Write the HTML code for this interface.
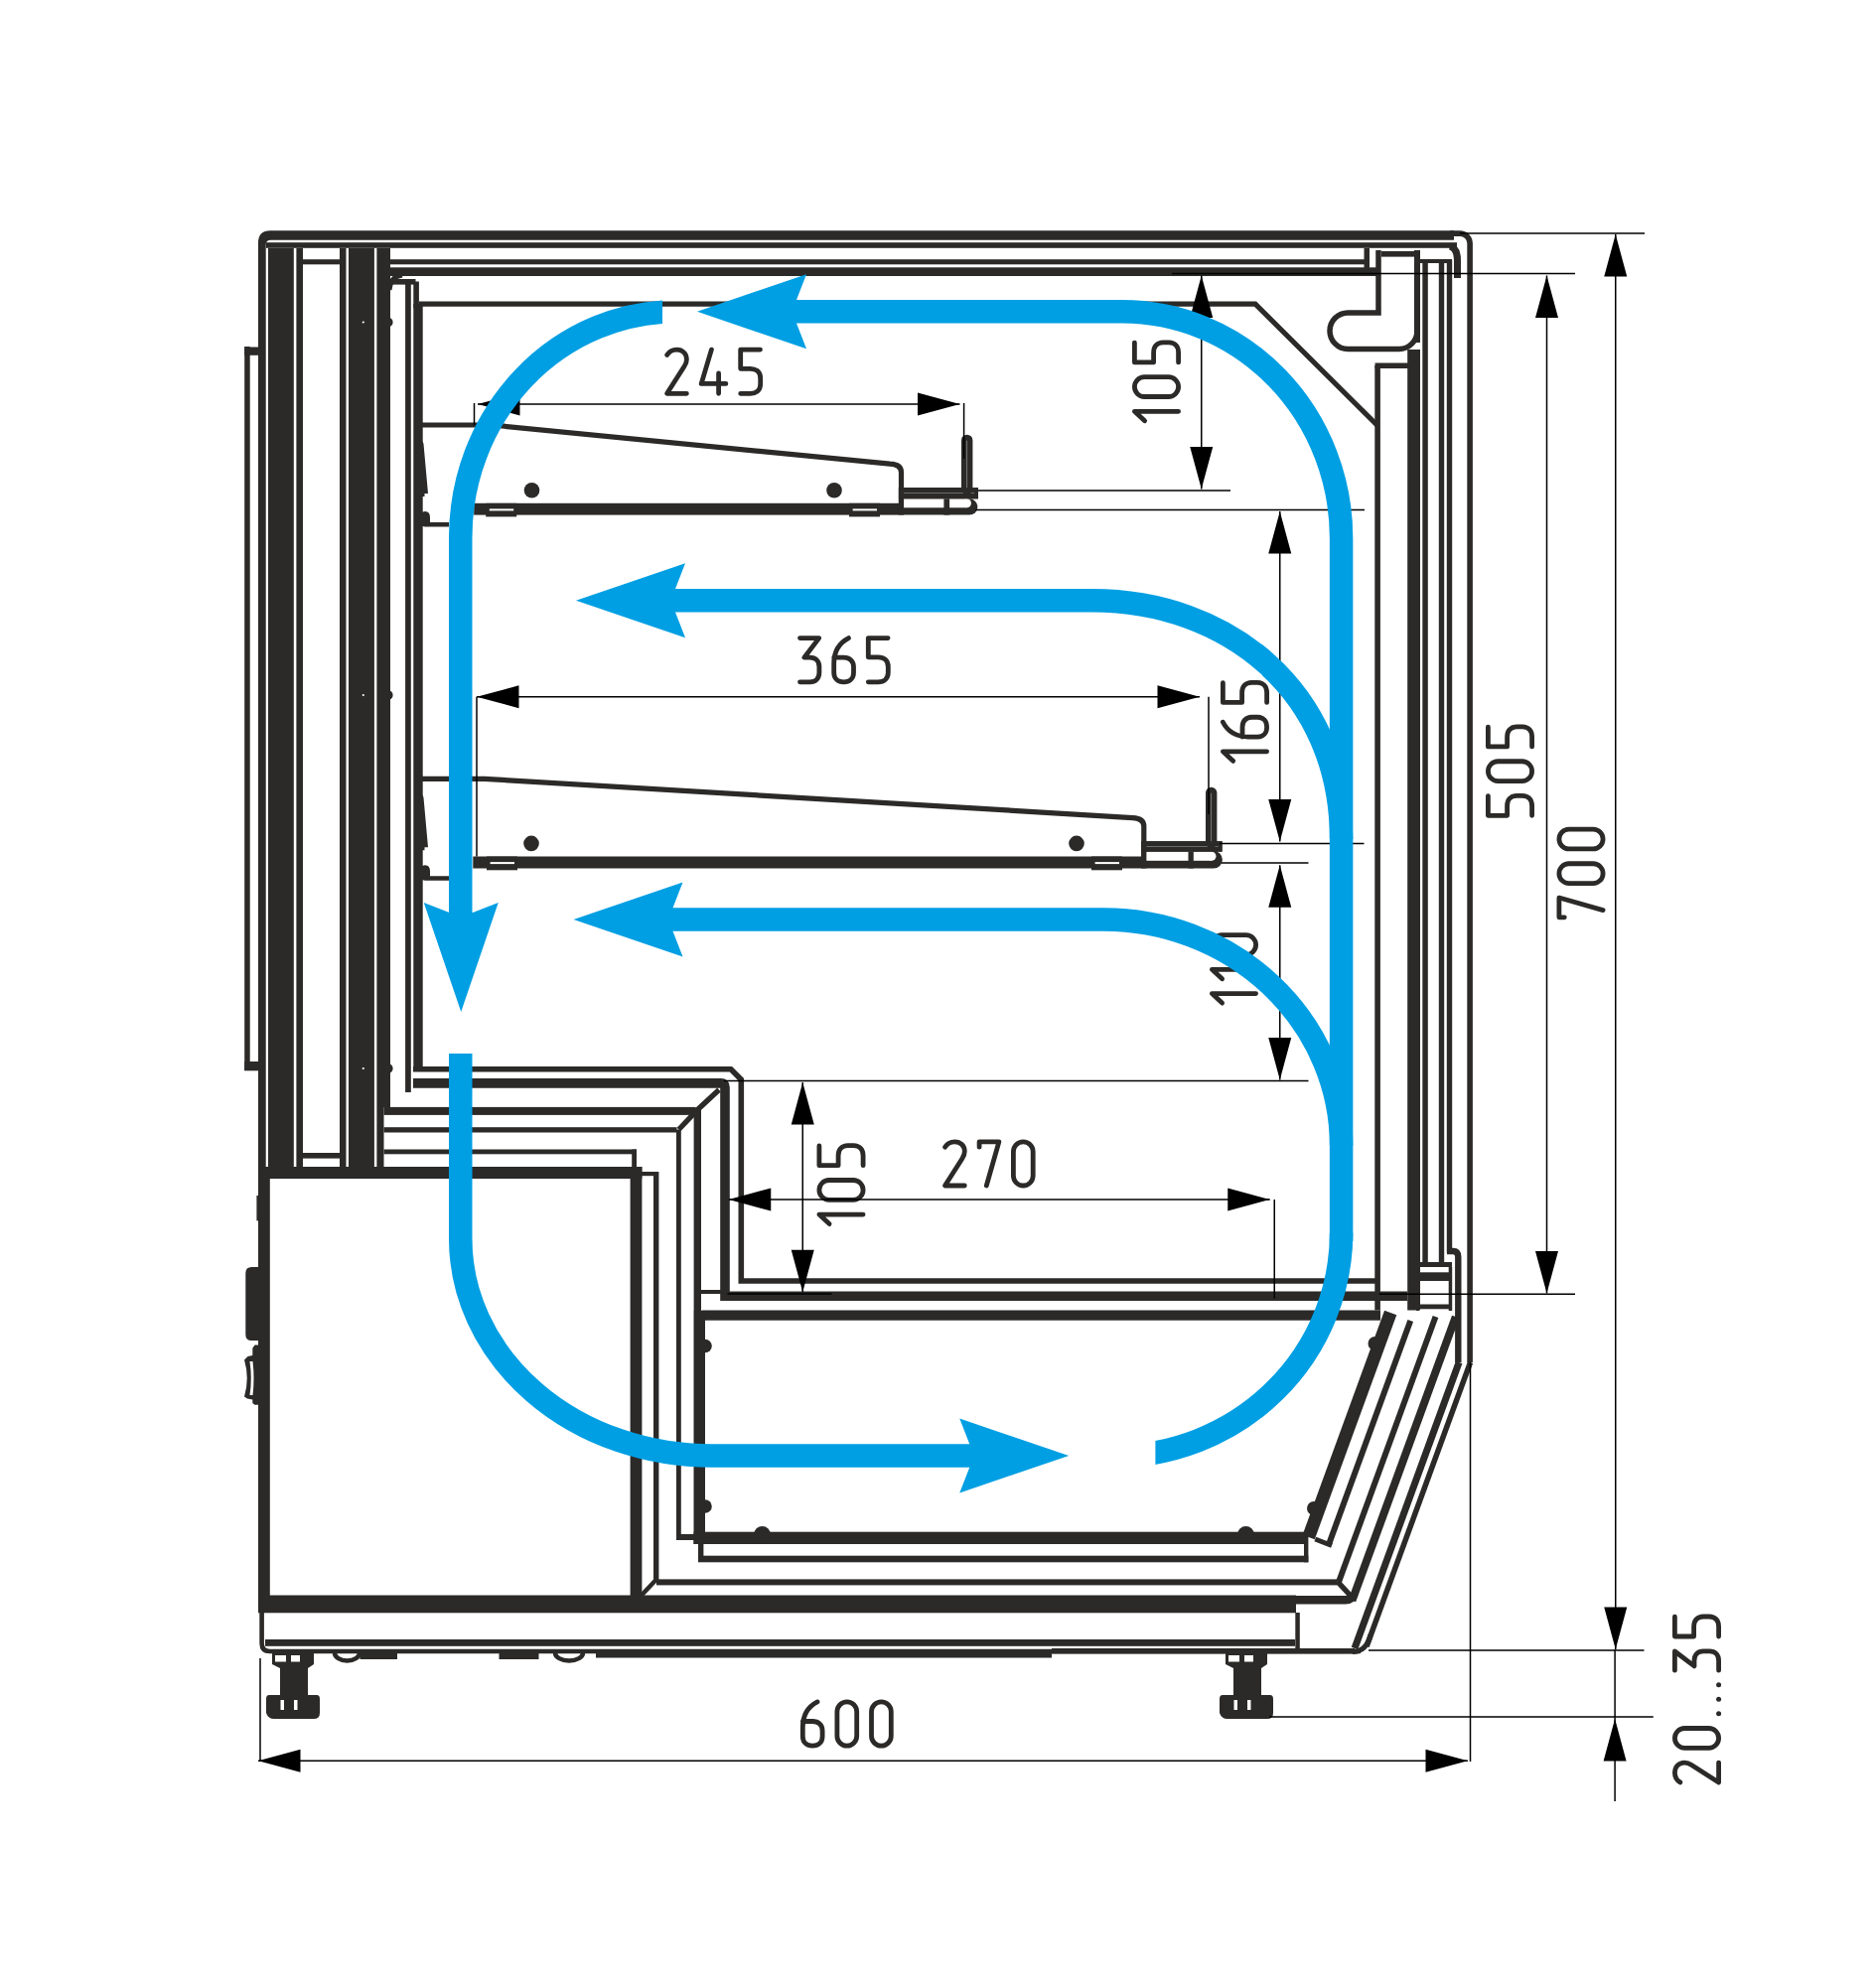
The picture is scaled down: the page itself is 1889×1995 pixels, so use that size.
<!DOCTYPE html>
<html><head><meta charset="utf-8"><title>Display cabinet section</title>
<style>html,body{margin:0;padding:0;background:#fff;}svg{display:block;}</style>
</head><body>
<svg xmlns="http://www.w3.org/2000/svg" width="1889" height="1995" viewBox="0 0 1889 1995"><path d="M260,1177.7 L260,244.4 Q260,232.2 272.2,232.2 L1464,232.2 L1464,241.8 L272.7,241.8 Q267.7,241.8 267.7,246.8 L267.7,1177.7 Z" fill="#2b2a29"/>
<path d="M1460,235.1 L1470.1,235.1 A10,10 0 0 1 1480.1,245.1 L1480.1,1372" fill="none" stroke="#2b2a29" stroke-width="5.6" />
<rect x="268.00" y="244.20" width="1199.00" height="5.60" fill="#2b2a29"/>
<rect x="305.00" y="261.20" width="37.00" height="5.10" fill="#2b2a29"/>
<rect x="393.00" y="261.20" width="981.00" height="5.10" fill="#2b2a29"/>
<rect x="393.00" y="269.30" width="993.00" height="8.70" fill="#2b2a29"/>
<rect x="1373.50" y="250.00" width="5.50" height="24.00" fill="#2b2a29"/>
<rect x="1391.00" y="253.00" width="33.00" height="5.60" fill="#2b2a29"/>
<rect x="1424.00" y="252.00" width="6.00" height="93.00" fill="#2b2a29"/>
<rect x="1430.00" y="261.00" width="32.00" height="4.00" fill="#2b2a29"/>
<path d="M1460,248 Q1467.5,250 1467.5,262 L1467.5,280" fill="none" stroke="#2b2a29" stroke-width="7" />
<rect x="270.00" y="250.00" width="25.80" height="927.70" fill="#2b2a29"/>
<rect x="298.40" y="250.00" width="6.60" height="927.70" fill="#2b2a29"/>
<rect x="342.00" y="250.00" width="6.50" height="927.70" fill="#2b2a29"/>
<rect x="351.00" y="250.00" width="25.90" height="927.70" fill="#2b2a29"/>
<rect x="379.40" y="250.00" width="13.60" height="865.00" fill="#2b2a29"/>
<rect x="379.40" y="1115.00" width="7.10" height="62.70" fill="#2b2a29"/>
<rect x="305.00" y="1161.00" width="37.00" height="5.60" fill="#2b2a29"/>
<circle cx="390.6" cy="324.5" r="5" fill="#2b2a29"/>
<circle cx="365.8" cy="324.5" r="1.1" fill="#fff"/>
<circle cx="390.6" cy="700" r="5" fill="#2b2a29"/>
<circle cx="365.8" cy="700" r="1.1" fill="#fff"/>
<circle cx="390.6" cy="1076" r="5" fill="#2b2a29"/>
<circle cx="365.8" cy="1076" r="1.1" fill="#fff"/>
<path d="M392,292 Q393,278.5 405,277" fill="none" stroke="#2b2a29" stroke-width="5" />
<rect x="392.40" y="281.00" width="26.10" height="5.60" fill="#2b2a29"/>
<rect x="416.30" y="283.50" width="5.60" height="26.50" fill="#2b2a29"/>
<rect x="408.10" y="286.00" width="5.70" height="814.00" fill="#2b2a29"/>
<rect x="416.30" y="306.00" width="9.40" height="768.00" fill="#2b2a29"/>
<rect x="246.20" y="349.00" width="5.50" height="729.00" fill="#2b2a29"/>
<rect x="246.20" y="349.50" width="14.80" height="8.30" fill="#2b2a29"/>
<rect x="246.20" y="1069.00" width="14.80" height="9.30" fill="#2b2a29"/>
<path d="M422,306.2 L1264,306.2 L1387,428.5" fill="none" stroke="#2b2a29" stroke-width="5.2" />
<path d="M1388,252 L1388,314.9 L1357.3,314.9 A18.1,18.1 0 0 0 1357.3,351.5 L1408.8,351.5 A18.2,18.2 0 0 0 1427,333.3 L1427,300" fill="none" stroke="#2b2a29" stroke-width="5.5" />
<path d="M1387.3,371 L1387.3,368.2 L1421,368.2 L1421,352" fill="none" stroke="#2b2a29" stroke-width="5.5" />
<rect x="1384.30" y="368.00" width="5.60" height="951.50" fill="#2b2a29"/>
<rect x="1417.20" y="352.00" width="12.80" height="967.50" fill="#2b2a29"/>
<rect x="1432.30" y="262.00" width="5.50" height="1009.00" fill="#2b2a29"/>
<rect x="1448.80" y="262.00" width="5.40" height="1009.00" fill="#2b2a29"/>
<rect x="1456.80" y="262.00" width="5.40" height="1000.00" fill="#2b2a29"/>
<path d="M1457,1260 L1463,1260 Q1468.3,1260 1468.3,1266 L1468.3,1372" fill="none" stroke="#2b2a29" stroke-width="6.4" />
<rect x="1426.00" y="1271.00" width="36.00" height="5.00" fill="#2b2a29"/>
<rect x="1426.00" y="1281.30" width="36.00" height="8.70" fill="#2b2a29"/>
<rect x="1426.00" y="1313.50" width="36.00" height="4.80" fill="#2b2a29"/>
<rect x="1426.00" y="1290.00" width="3.00" height="30.00" fill="#2b2a29"/>
<rect x="1458.70" y="1276.00" width="3.50" height="44.00" fill="#2b2a29"/>
<path d="M420,428 L495,428 L896,467.2 Q907.5,467.7 907.5,475.7 L907.5,508.8" fill="none" stroke="#2b2a29" stroke-width="5.2" />
<rect x="477.20" y="506.80" width="432.90" height="11.80" fill="#2b2a29"/>
<circle cx="535.5" cy="493.7" r="7.8" fill="#2b2a29"/>
<circle cx="840" cy="493.7" r="7.8" fill="#2b2a29"/>
<rect x="489.20" y="506.80" width="31.00" height="13.60" fill="#2b2a29"/>
<rect x="492.80" y="512.40" width="24.40" height="2.00" fill="#fff"/>
<rect x="855.00" y="506.80" width="31.00" height="13.60" fill="#2b2a29"/>
<rect x="858.60" y="512.40" width="24.40" height="2.00" fill="#fff"/>
<rect x="904.90" y="491.10" width="80.10" height="11.20" fill="#2b2a29"/>
<rect x="910.10" y="496.40" width="70.90" height="0.60" fill="#9a9a9a"/>
<path d="M904.9,502.3 L976.2,502.3 A8.15,8.15 0 0 1 976.2,518.6 L904.9,518.6 Z" fill="#2b2a29"/>
<rect x="910.10" y="502.30" width="63.35" height="9.00" fill="#fff"/>
<circle cx="973.45" cy="506.8" r="4.5" fill="#fff"/>
<rect x="904.90" y="491.10" width="80.10" height="11.20" fill="#2b2a29"/>
<rect x="910.10" y="496.40" width="70.90" height="0.60" fill="#9a9a9a"/>
<rect x="950.40" y="502.30" width="5.70" height="16.30" fill="#2b2a29"/>
<path d="M973.7,492.1 L973.7,443.4" fill="none" stroke="#2b2a29" stroke-width="11.4" stroke-linecap="round"/>
<rect x="973.35" y="443.70" width="0.70" height="47.40" fill="#9a9a9a"/>
<path d="M420,784.3 L487.5,784.3 L1140.5,823.6 Q1151.8,824.1 1151.8,832.1 L1151.8,864.5" fill="none" stroke="#2b2a29" stroke-width="5.2" />
<rect x="476.30" y="862.50" width="678.10" height="12.00" fill="#2b2a29"/>
<circle cx="535" cy="849.4" r="7.8" fill="#2b2a29"/>
<circle cx="1084" cy="849.4" r="7.8" fill="#2b2a29"/>
<rect x="490.00" y="862.50" width="31.00" height="13.80" fill="#2b2a29"/>
<rect x="493.60" y="868.10" width="24.40" height="2.00" fill="#fff"/>
<rect x="1099.00" y="862.50" width="31.00" height="13.80" fill="#2b2a29"/>
<rect x="1102.60" y="868.10" width="24.40" height="2.00" fill="#fff"/>
<rect x="1149.20" y="847.20" width="81.40" height="10.50" fill="#2b2a29"/>
<rect x="1154.40" y="852.15" width="72.20" height="0.60" fill="#9a9a9a"/>
<path d="M1149.2,856.8000000000001 L1222,856.8000000000001 A8.9,8.9 0 0 1 1222,874.6 L1149.2,874.6 Z" fill="#2b2a29"/>
<rect x="1154.40" y="857.70" width="65.55" height="9.10" fill="#fff"/>
<circle cx="1219.95" cy="862.25" r="4.5499999999999545" fill="#fff"/>
<rect x="1149.20" y="847.20" width="81.40" height="10.50" fill="#2b2a29"/>
<rect x="1154.40" y="852.15" width="72.20" height="0.60" fill="#9a9a9a"/>
<rect x="1196.50" y="857.70" width="5.30" height="16.80" fill="#2b2a29"/>
<path d="M1219.7,848.2 L1219.7,798.5" fill="none" stroke="#2b2a29" stroke-width="11.4" stroke-linecap="round"/>
<rect x="1219.35" y="798.80" width="0.70" height="48.40" fill="#9a9a9a"/>
<path d="M421.5,444 Q425.5,443 426.5,447 L431,497 L427.5,497 L427.5,500 L421.5,500 Z" fill="#2b2a29"/>
<path d="M422.8,521 Q423,515 428,515 Q433,515 433,521 L433,526 L452,526 L452,530.5 L428,530.5 Q422.8,530 422.8,526 Z" fill="#2b2a29"/>
<path d="M421.5,800.3 Q425.5,799.3 426.5,803.3 L431,853.3 L427.5,853.3 L427.5,856.3 L421.5,856.3 Z" fill="#2b2a29"/>
<path d="M422.8,877.3 Q423,871.3 428,871.3 Q433,871.3 433,877.3 L433,882.3 L452,882.3 L452,886.8 L428,886.8 Q422.8,886.3 422.8,882.3 Z" fill="#2b2a29"/>
<rect x="260.00" y="1175.00" width="386.40" height="12.00" fill="#2b2a29"/>
<rect x="260.00" y="1177.00" width="11.80" height="431.00" fill="#2b2a29"/>
<rect x="634.60" y="1175.00" width="11.80" height="432.00" fill="#2b2a29"/>
<rect x="636.20" y="1157.50" width="4.80" height="18.50" fill="#2b2a29"/>
<rect x="386.50" y="1157.50" width="254.50" height="4.80" fill="#2b2a29"/>
<rect x="386.50" y="1135.20" width="295.00" height="5.30" fill="#2b2a29"/>
<rect x="386.50" y="1114.90" width="314.20" height="8.00" fill="#2b2a29"/>
<rect x="645.30" y="1180.00" width="15.40" height="4.20" fill="#2b2a29"/>
<rect x="658.00" y="1180.00" width="5.40" height="411.00" fill="#2b2a29"/>
<path d="M724,1097.5 L703,1117 L683.5,1137.5" fill="none" stroke="#2b2a29" stroke-width="5.3" />
<rect x="681.00" y="1137.50" width="4.80" height="411.00" fill="#2b2a29"/>
<rect x="681.00" y="1545.00" width="22.00" height="6.00" fill="#2b2a29"/>
<rect x="698.60" y="1117.00" width="7.40" height="203.00" fill="#2b2a29"/>
<rect x="698.50" y="1320.00" width="11.50" height="235.00" fill="#2b2a29"/>
<path d="M661,1590.5 L645.5,1607" fill="none" stroke="#2b2a29" stroke-width="4.5" />
<rect x="661.00" y="1590.40" width="685.60" height="6.00" fill="#2b2a29"/>
<path d="M260,1275.9 L253.3,1275.9 Q247.3,1275.9 247.3,1281.9 L247.3,1344 Q247.3,1350 253.3,1350 L260,1350 Z" fill="#2b2a29"/>
<path d="M260,1354.5 L256.5,1354.5 L254.3,1357.7 L254.3,1365 L249.5,1366 L246,1369.5 Q251.5,1388 246,1406.5 L249,1408.5 L254.3,1409.5 L254.3,1413 L256.5,1414.8 L260,1414.8 Z" fill="#2b2a29"/>
<path d="M251.5,1371 L254.5,1371 Q256.5,1388 254.5,1405 L251.5,1405 Q254,1388 251.5,1371 Z" fill="#fff"/>
<rect x="258.40" y="1204.00" width="2.00" height="25.40" fill="#2b2a29"/>
<path d="M416,1076.8 L735.9,1076.8 L746.3,1087.2 L746.3,1290 L1387,1290" fill="none" stroke="#2b2a29" stroke-width="5.6" />
<path d="M416,1090.9 L726,1090.9 Q730,1090.9 730,1095 L730,1305.3 L1417,1305.3" fill="none" stroke="#2b2a29" stroke-width="9.6" />
<rect x="706.50" y="1319.50" width="683.50" height="10.20" fill="#2b2a29"/>
<rect x="706.00" y="1299.00" width="22.00" height="4.00" fill="#2b2a29"/>
<rect x="698.50" y="1542.70" width="614.50" height="12.30" fill="#2b2a29"/>
<rect x="703.00" y="1554.00" width="5.40" height="18.70" fill="#2b2a29"/>
<rect x="703.00" y="1566.70" width="614.40" height="6.60" fill="#2b2a29"/>
<rect x="1313.00" y="1545.00" width="4.40" height="28.30" fill="#2b2a29"/>
<circle cx="710" cy="1355.5" r="6.8" fill="#2b2a29"/>
<circle cx="710" cy="1517" r="6.8" fill="#2b2a29"/>
<circle cx="767.5" cy="1545.5" r="8.5" fill="#2b2a29"/>
<circle cx="1254.5" cy="1545.5" r="8.5" fill="#2b2a29"/>
<rect x="260.00" y="1606.50" width="1045.00" height="17.80" fill="#2b2a29"/>
<path d="M1300,1611.3 L1355,1611.3 Q1361,1611.3 1363.5,1605" fill="none" stroke="#2b2a29" stroke-width="8.6" />
<path d="M1346.5,1592.5 L1359.5,1606.5" fill="none" stroke="#2b2a29" stroke-width="5.5" />
<path d="M1324.3,1550 L1341,1556.5" fill="none" stroke="#2b2a29" stroke-width="5" />
<path d="M1380.2,1646 Q1376,1663.5 1362,1663.5" fill="none" stroke="#2b2a29" stroke-width="5.2" />
<rect x="267.00" y="1651.00" width="1037.00" height="6.80" fill="#2b2a29"/>
<path d="M263.6,1620 L263.6,1655 Q263.6,1663 271.6,1663 L1370,1663" fill="none" stroke="#2b2a29" stroke-width="4.6" />
<rect x="1304.30" y="1624.00" width="4.50" height="36.00" fill="#2b2a29"/>
<rect x="1059.00" y="1660.00" width="305.00" height="5.50" fill="#2b2a29"/>
<path d="M274,1665 L316,1665 L316,1676 L310,1680 L310,1707 L319,1707 Q322,1707 322,1711 L322,1725 Q322,1731 316,1731 L276,1731 Q270,1731 268,1725 L268,1711 Q268,1707 271,1707 L282,1707 L282,1680 L274,1676 Z" fill="#2b2a29"/>
<rect x="277.00" y="1667.00" width="11.00" height="6.50" fill="#fff"/>
<rect x="293.00" y="1667.00" width="9.00" height="6.50" fill="#fff"/>
<rect x="282.50" y="1712.00" width="3.50" height="10.00" fill="#fff"/>
<rect x="296.00" y="1712.00" width="3.50" height="10.00" fill="#fff"/>
<path d="M1234,1665 L1276,1665 L1276,1676 L1270,1680 L1270,1707 L1279,1707 Q1282,1707 1282,1711 L1282,1725 Q1282,1731 1276,1731 L1236,1731 Q1230,1731 1228,1725 L1228,1711 Q1228,1707 1231,1707 L1242,1707 L1242,1680 L1234,1676 Z" fill="#2b2a29"/>
<rect x="1237.00" y="1667.00" width="11.00" height="6.50" fill="#fff"/>
<rect x="1253.00" y="1667.00" width="9.00" height="6.50" fill="#fff"/>
<rect x="1242.50" y="1712.00" width="3.50" height="10.00" fill="#fff"/>
<rect x="1256.00" y="1712.00" width="3.50" height="10.00" fill="#fff"/>
<path d="M337,1664.5 A12.5,8 0 0 0 362,1664.5" fill="none" stroke="#2b2a29" stroke-width="4.5" />
<rect x="362.50" y="1663.00" width="37.50" height="8.00" fill="#2b2a29"/>
<rect x="502.50" y="1663.00" width="40.00" height="8.00" fill="#2b2a29"/>
<path d="M559,1664.5 A14,8 0 0 0 587,1664.5" fill="none" stroke="#2b2a29" stroke-width="4.5" />
<rect x="600.00" y="1663.00" width="459.00" height="6.50" fill="#2b2a29"/>
<path d="M1400.17,1322 L1317.68,1548" fill="none" stroke="#2b2a29" stroke-width="13" />
<path d="M1420.25,1330 L1338.49,1554" fill="none" stroke="#2b2a29" stroke-width="6" />
<path d="M1445.51,1326 L1348.06,1593" fill="none" stroke="#2b2a29" stroke-width="6" />
<path d="M1465.81,1326 L1361.42,1612" fill="none" stroke="#2b2a29" stroke-width="8" />
<path d="M1469.12,1372 L1364.00,1660" fill="none" stroke="#2b2a29" stroke-width="7" />
<path d="M1480.52,1372 L1376.13,1658" fill="none" stroke="#2b2a29" stroke-width="5.5" />
<circle cx="1384.5" cy="1353" r="7" fill="#2b2a29"/>
<circle cx="1323" cy="1519" r="7" fill="#2b2a29"/>
<line x1="481" y1="407" x2="966.5" y2="407" stroke="#000" stroke-width="1.5"/>
<path d="M481,407 L523.50,395.50 L523.50,418.50 Z" fill="#000"/>
<path d="M966.5,407 L924.00,418.50 L924.00,395.50 Z" fill="#000"/>
<line x1="477.5" y1="406" x2="477.5" y2="428" stroke="#000" stroke-width="1.5"/>
<line x1="970.6" y1="406" x2="970.6" y2="462" stroke="#000" stroke-width="1.5"/>
<g transform="translate(669.2,349.7)" fill="none" stroke="#2b2a29" stroke-width="4.8" stroke-linecap="round" stroke-linejoin="round"><path transform="translate(0.00,0)" d="M2.4,7.8 C4.5,4.3 8,2.4 12.3,2.4 C18,2.4 22.2,6.5 22.2,12.2 C22.2,14.8 21.4,17 19.8,19.3 L2.4,46.6 L22.2,46.6"/><path transform="translate(34.60,0)" d="M12.6,2.4 L2.4,36.7 L27.1,36.7 M19.8,26.3 L19.8,46.6"/><path transform="translate(74.10,0)" d="M22.2,2.4 L2.4,2.4 L2.4,21.6 L12.3,21.6 C18.4,21.6 22.4,25.2 22.4,31.2 L22.4,37 C22.4,43 18.4,46.6 12.3,46.6 L2.4,46.6"/></g>
<line x1="480" y1="701.75" x2="1208" y2="701.75" stroke="#000" stroke-width="1.5"/>
<path d="M480,701.75 L522.50,690.25 L522.50,713.25 Z" fill="#000"/>
<path d="M1208,701.75 L1165.50,713.25 L1165.50,690.25 Z" fill="#000"/>
<line x1="480" y1="701.75" x2="480" y2="862.5" stroke="#000" stroke-width="1.5"/>
<line x1="1217" y1="701.75" x2="1217" y2="820" stroke="#000" stroke-width="1.5"/>
<g transform="translate(803.1,640.2)" fill="none" stroke="#2b2a29" stroke-width="4.8" stroke-linecap="round" stroke-linejoin="round"><path transform="translate(0.00,0)" d="M2.4,2.4 L21.6,2.4 L6.7,22 L12.3,22 C18.2,22 21.8,25.6 21.8,31.2 L21.8,37.4 C21.8,43 18.2,46.6 12.3,46.6 L2.4,46.6"/><path transform="translate(34.20,0)" d="M17.2,2.4 C8.2,7 2.4,15 2.4,28 L2.4,37.2 C2.4,43 6.4,46.6 12.3,46.6 C18.2,46.6 22.2,43 22.2,37.2 L22.2,31.4 C22.2,25.6 18.2,22 12.3,22 L2.4,22"/><path transform="translate(68.80,0)" d="M22.2,2.4 L2.4,2.4 L2.4,21.6 L12.3,21.6 C18.4,21.6 22.4,25.2 22.4,31.2 L22.4,37 C22.4,43 18.4,46.6 12.3,46.6 L2.4,46.6"/></g>
<line x1="1180" y1="275.5" x2="1586" y2="275.5" stroke="#000" stroke-width="1.5"/>
<line x1="1209.75" y1="277.5" x2="1209.75" y2="492.5" stroke="#000" stroke-width="1.5"/>
<path d="M1209.75,277.5 L1221.25,320.00 L1198.25,320.00 Z" fill="#000"/>
<path d="M1209.75,492.5 L1198.25,450.00 L1221.25,450.00 Z" fill="#000"/>
<line x1="985" y1="494" x2="1239" y2="494" stroke="#000" stroke-width="1.5"/>
<g transform="translate(1140,426.2) rotate(-90)" fill="none" stroke="#2b2a29" stroke-width="4.8" stroke-linecap="round" stroke-linejoin="round"><path transform="translate(0.00,0)" d="M11.9,46.6 L11.9,2.4 L2.4,12.6"/><path transform="translate(24.30,0)" d="M2.4,12.3 A9.9,9.9 0 0 1 22.2,12.3 L22.2,36.7 A9.9,9.9 0 0 1 2.4,36.7 Z"/><path transform="translate(58.90,0)" d="M22.2,2.4 L2.4,2.4 L2.4,21.6 L12.3,21.6 C18.4,21.6 22.4,25.2 22.4,31.2 L22.4,37 C22.4,43 18.4,46.6 12.3,46.6 L2.4,46.6"/></g>
<line x1="982.4" y1="513.5" x2="1374" y2="513.5" stroke="#000" stroke-width="1.5"/>
<line x1="1288.75" y1="515" x2="1288.75" y2="847.5" stroke="#000" stroke-width="1.5"/>
<path d="M1288.75,515 L1300.25,557.50 L1277.25,557.50 Z" fill="#000"/>
<path d="M1288.75,847.5 L1277.25,805.00 L1300.25,805.00 Z" fill="#000"/>
<line x1="1228" y1="849.4" x2="1373.5" y2="849.4" stroke="#000" stroke-width="1.5"/>
<g transform="translate(1229,768.75) rotate(-90)" fill="none" stroke="#2b2a29" stroke-width="4.8" stroke-linecap="round" stroke-linejoin="round"><path transform="translate(0.00,0)" d="M11.9,46.6 L11.9,2.4 L2.4,12.6"/><path transform="translate(24.30,0)" d="M17.2,2.4 C8.2,7 2.4,15 2.4,28 L2.4,37.2 C2.4,43 6.4,46.6 12.3,46.6 C18.2,46.6 22.2,43 22.2,37.2 L22.2,31.4 C22.2,25.6 18.2,22 12.3,22 L2.4,22"/><path transform="translate(58.90,0)" d="M22.2,2.4 L2.4,2.4 L2.4,21.6 L12.3,21.6 C18.4,21.6 22.4,25.2 22.4,31.2 L22.4,37 C22.4,43 18.4,46.6 12.3,46.6 L2.4,46.6"/></g>
<line x1="1230" y1="868.9" x2="1317.5" y2="868.9" stroke="#000" stroke-width="1.5"/>
<line x1="1288.75" y1="871.25" x2="1288.75" y2="1087.5" stroke="#000" stroke-width="1.5"/>
<path d="M1288.75,871.25 L1300.25,913.75 L1277.25,913.75 Z" fill="#000"/>
<path d="M1288.75,1087.5 L1277.25,1045.00 L1300.25,1045.00 Z" fill="#000"/>
<line x1="729" y1="1088.5" x2="1317.5" y2="1088.5" stroke="#000" stroke-width="1.5"/>
<g transform="translate(1218,1012.5) rotate(-90)" fill="none" stroke="#2b2a29" stroke-width="4.8" stroke-linecap="round" stroke-linejoin="round"><path transform="translate(0.00,0)" d="M11.9,46.6 L11.9,2.4 L2.4,12.6"/><path transform="translate(24.30,0)" d="M11.9,46.6 L11.9,2.4 L2.4,12.6"/><path transform="translate(48.60,0)" d="M2.4,12.3 A9.9,9.9 0 0 1 22.2,12.3 L22.2,36.7 A9.9,9.9 0 0 1 2.4,36.7 Z"/></g>
<line x1="808.25" y1="1090" x2="808.25" y2="1301.25" stroke="#000" stroke-width="1.5"/>
<path d="M808.25,1090 L819.75,1132.50 L796.75,1132.50 Z" fill="#000"/>
<path d="M808.25,1301.25 L796.75,1258.75 L819.75,1258.75 Z" fill="#000"/>
<line x1="732.5" y1="1303" x2="837.5" y2="1303" stroke="#000" stroke-width="1.5"/>
<g transform="translate(822.5,1235) rotate(-90)" fill="none" stroke="#2b2a29" stroke-width="4.8" stroke-linecap="round" stroke-linejoin="round"><path transform="translate(0.00,0)" d="M11.9,46.6 L11.9,2.4 L2.4,12.6"/><path transform="translate(24.30,0)" d="M2.4,12.3 A9.9,9.9 0 0 1 22.2,12.3 L22.2,36.7 A9.9,9.9 0 0 1 2.4,36.7 Z"/><path transform="translate(58.90,0)" d="M22.2,2.4 L2.4,2.4 L2.4,21.6 L12.3,21.6 C18.4,21.6 22.4,25.2 22.4,31.2 L22.4,37 C22.4,43 18.4,46.6 12.3,46.6 L2.4,46.6"/></g>
<line x1="733.75" y1="1208" x2="1278.75" y2="1208" stroke="#000" stroke-width="1.5"/>
<path d="M733.75,1208 L776.25,1196.50 L776.25,1219.50 Z" fill="#000"/>
<path d="M1278.75,1208 L1236.25,1219.50 L1236.25,1196.50 Z" fill="#000"/>
<line x1="1283.25" y1="1208" x2="1283.25" y2="1307.5" stroke="#000" stroke-width="1.5"/>
<g transform="translate(949.1,1147.4)" fill="none" stroke="#2b2a29" stroke-width="4.8" stroke-linecap="round" stroke-linejoin="round"><path transform="translate(0.00,0)" d="M2.4,7.8 C4.5,4.3 8,2.4 12.3,2.4 C18,2.4 22.2,6.5 22.2,12.2 C22.2,14.8 21.4,17 19.8,19.3 L2.4,46.6 L22.2,46.6"/><path transform="translate(34.60,0)" d="M2.4,7.8 L2.4,2.4 L22.2,2.4 L9.6,46.6"/><path transform="translate(68.90,0)" d="M2.4,12.3 A9.9,9.9 0 0 1 22.2,12.3 L22.2,36.7 A9.9,9.9 0 0 1 2.4,36.7 Z"/></g>
<line x1="1557.5" y1="277.5" x2="1557.5" y2="1302.5" stroke="#000" stroke-width="1.5"/>
<path d="M1557.5,277.5 L1569.00,320.00 L1546.00,320.00 Z" fill="#000"/>
<path d="M1557.5,1302.5 L1546.00,1260.00 L1569.00,1260.00 Z" fill="#000"/>
<line x1="1388.75" y1="1303.3" x2="1586" y2="1303.3" stroke="#000" stroke-width="1.5"/>
<g transform="translate(1496,823.75) rotate(-90)" fill="none" stroke="#2b2a29" stroke-width="4.8" stroke-linecap="round" stroke-linejoin="round"><path transform="translate(0.00,0)" d="M22.2,2.4 L2.4,2.4 L2.4,21.6 L12.3,21.6 C18.4,21.6 22.4,25.2 22.4,31.2 L22.4,37 C22.4,43 18.4,46.6 12.3,46.6 L2.4,46.6"/><path transform="translate(34.80,0)" d="M2.4,12.3 A9.9,9.9 0 0 1 22.2,12.3 L22.2,36.7 A9.9,9.9 0 0 1 2.4,36.7 Z"/><path transform="translate(69.40,0)" d="M22.2,2.4 L2.4,2.4 L2.4,21.6 L12.3,21.6 C18.4,21.6 22.4,25.2 22.4,31.2 L22.4,37 C22.4,43 18.4,46.6 12.3,46.6 L2.4,46.6"/></g>
<line x1="1470" y1="235" x2="1656" y2="235" stroke="#000" stroke-width="1.5"/>
<line x1="1626.75" y1="236" x2="1626.75" y2="1661" stroke="#000" stroke-width="1.5"/>
<path d="M1626.75,236 L1638.25,278.50 L1615.25,278.50 Z" fill="#000"/>
<path d="M1626.75,1661 L1615.25,1618.50 L1638.25,1618.50 Z" fill="#000"/>
<g transform="translate(1567.5,926.25) rotate(-90)" fill="none" stroke="#2b2a29" stroke-width="4.8" stroke-linecap="round" stroke-linejoin="round"><path transform="translate(0.00,0)" d="M2.4,7.8 L2.4,2.4 L22.2,2.4 L9.6,46.6"/><path transform="translate(34.30,0)" d="M2.4,12.3 A9.9,9.9 0 0 1 22.2,12.3 L22.2,36.7 A9.9,9.9 0 0 1 2.4,36.7 Z"/><path transform="translate(68.90,0)" d="M2.4,12.3 A9.9,9.9 0 0 1 22.2,12.3 L22.2,36.7 A9.9,9.9 0 0 1 2.4,36.7 Z"/></g>
<line x1="260" y1="1773.25" x2="1478" y2="1773.25" stroke="#000" stroke-width="1.5"/>
<path d="M260,1773.25 L302.50,1761.75 L302.50,1784.75 Z" fill="#000"/>
<path d="M1478,1773.25 L1435.50,1784.75 L1435.50,1761.75 Z" fill="#000"/>
<line x1="262" y1="1670" x2="262" y2="1773" stroke="#000" stroke-width="1.5"/>
<line x1="1480.5" y1="1372" x2="1480.5" y2="1774" stroke="#000" stroke-width="1.5"/>
<g transform="translate(805.9,1711.5)" fill="none" stroke="#2b2a29" stroke-width="4.8" stroke-linecap="round" stroke-linejoin="round"><path transform="translate(0.00,0)" d="M17.2,2.4 C8.2,7 2.4,15 2.4,28 L2.4,37.2 C2.4,43 6.4,46.6 12.3,46.6 C18.2,46.6 22.2,43 22.2,37.2 L22.2,31.4 C22.2,25.6 18.2,22 12.3,22 L2.4,22"/><path transform="translate(34.60,0)" d="M2.4,12.3 A9.9,9.9 0 0 1 22.2,12.3 L22.2,36.7 A9.9,9.9 0 0 1 2.4,36.7 Z"/><path transform="translate(69.20,0)" d="M2.4,12.3 A9.9,9.9 0 0 1 22.2,12.3 L22.2,36.7 A9.9,9.9 0 0 1 2.4,36.7 Z"/></g>
<line x1="1378" y1="1662" x2="1655.5" y2="1662" stroke="#000" stroke-width="1.5"/>
<line x1="1278" y1="1728.9" x2="1664.8" y2="1728.9" stroke="#000" stroke-width="1.5"/>
<line x1="1626.1" y1="1661.5" x2="1626.1" y2="1814" stroke="#000" stroke-width="1.5"/>
<path d="M1626.1,1731 L1637.60,1773.50 L1614.60,1773.50 Z" fill="#000"/>
<g transform="translate(1684,1797.3) rotate(-90)" fill="none" stroke="#2b2a29" stroke-width="4.8" stroke-linecap="round" stroke-linejoin="round"><path transform="translate(0.00,0)" d="M2.4,7.8 C4.5,4.3 8,2.4 12.3,2.4 C18,2.4 22.2,6.5 22.2,12.2 C22.2,14.8 21.4,17 19.8,19.3 L2.4,46.6 L22.2,46.6"/><path transform="translate(34.60,0)" d="M2.4,12.3 A9.9,9.9 0 0 1 22.2,12.3 L22.2,36.7 A9.9,9.9 0 0 1 2.4,36.7 Z"/><circle cx="71.45" cy="46.6" r="2.5" fill="#2b2a29" stroke="none"/><circle cx="85.95" cy="46.6" r="2.5" fill="#2b2a29" stroke="none"/><circle cx="100.45" cy="46.6" r="2.5" fill="#2b2a29" stroke="none"/><path transform="translate(112.70,0)" d="M2.4,2.4 L21.6,2.4 L6.7,22 L12.3,22 C18.2,22 21.8,25.6 21.8,31.2 L21.8,37.4 C21.8,43 18.2,46.6 12.3,46.6 L2.4,46.6"/><path transform="translate(146.90,0)" d="M22.2,2.4 L2.4,2.4 L2.4,21.6 L12.3,21.6 C18.4,21.6 22.4,25.2 22.4,31.2 L22.4,37 C22.4,43 18.4,46.6 12.3,46.6 L2.4,46.6"/></g>
<defs><clipPath id="cl1"><rect x="0" y="0" width="667" height="1995"/></clipPath><clipPath id="cl2"><rect x="1163.4" y="0" width="800" height="1995"/></clipPath></defs>
<path d="M681.3,313.75 A217.5,227.6 0 0 0 463.75,541.3 L463.75,920" fill="none" stroke="#009fe3" stroke-width="23.5" clip-path="url(#cl1)"/>
<path d="M464.25,1019.00 L501.75,909.00 L476.05,919.00 L452.45,919.00 L426.75,909.00 Z" fill="#009fe3"/>
<path d="M801,313.75 L1129.9,313.75 A220.70,228.4 0 0 1 1350.6,542.2 L1350.6,1250" fill="none" stroke="#009fe3" stroke-width="23.5" />
<path d="M1350.6,1241.4 A228.80,225.3 0 0 1 1121.8,1466.7" fill="none" stroke="#009fe3" stroke-width="23.5" clip-path="url(#cl2)"/>
<path d="M702.00,313.75 L812.00,351.25 L802.00,325.55 L802.00,301.95 L812.00,276.25 Z" fill="#009fe3"/>
<path d="M680,604.8 L1100,604.8 C1235,604.8 1350.6,695 1350.6,845" fill="none" stroke="#009fe3" stroke-width="23.5" />
<path d="M580.00,604.80 L690.00,642.30 L680.00,616.60 L680.00,593.00 L690.00,567.30 Z" fill="#009fe3"/>
<path d="M677,926 L1111.2,926 A239.40,227.7 0 0 1 1350.6,1153.7" fill="none" stroke="#009fe3" stroke-width="23.5" />
<path d="M577.50,926.00 L687.50,963.50 L677.50,937.80 L677.50,914.20 L687.50,888.50 Z" fill="#009fe3"/>
<path d="M463.75,1061 L463.75,1247.4 A252.9,218.6 0 0 0 716.8,1466 L977,1466" fill="none" stroke="#009fe3" stroke-width="23.5" />
<path d="M1076.25,1466.00 L966.25,1428.50 L976.25,1454.20 L976.25,1477.80 L966.25,1503.50 Z" fill="#009fe3"/></svg>
</body></html>
